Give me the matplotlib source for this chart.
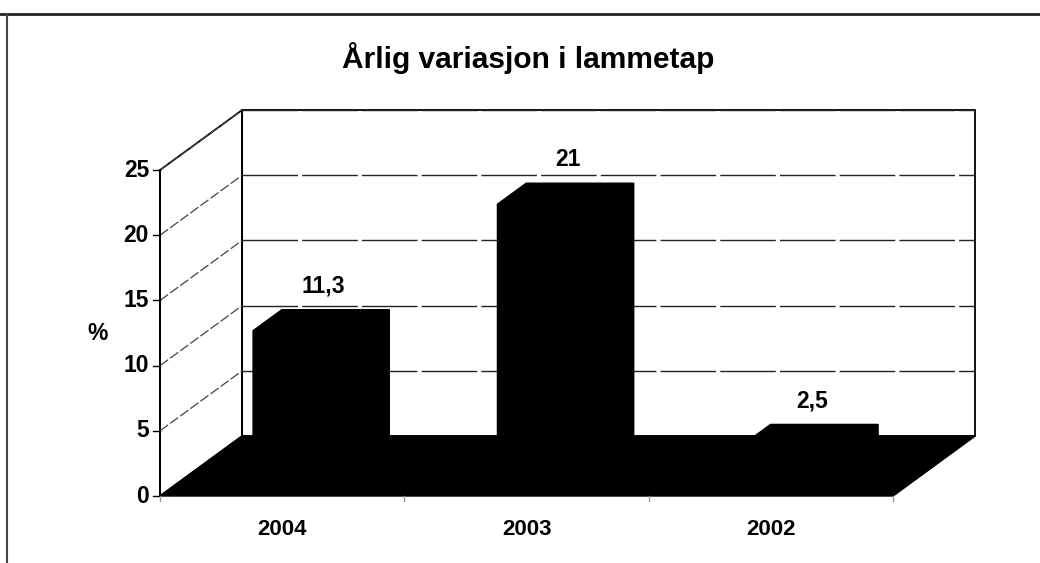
import matplotlib.pyplot as plt
import numpy as np
from matplotlib.patches import Polygon

plt.rcParams['font.family'] = ['Liberation Sans', 'DejaVu Sans']
plt.rcParams['font.weight'] = 'bold'

years = ["2004", "2003", "2002"]
tap = [11.3, 21, 2.5]
value_labels = ["11,3", "21", "2,5"]
yticks = [0, 5, 10, 15, 20, 25]

# oblique "3D": depth 0..1 shifts a point right/up in data units
DX, DY = 0.336, 4.6
def proj(x, y, d):
    return (x + DX * d, y + DY * d)

fig = plt.figure(figsize=(10.4, 5.63), dpi=100)
ax = fig.add_axes([0, 0, 1, 1])
ax.set_xlim(-0.6548, 3.601)
ax.set_ylim(-5.138, 38.04)
ax.axis('off')

n = len(years)
ymax = 25

# outer frame (scan border)
fig.add_artist(plt.Line2D([0, 1], [1 - 14/563, 1 - 14/563], color='#222', lw=2))
fig.add_artist(plt.Line2D([7/1040, 7/1040], [0, 1 - 14/563], color='#444', lw=1.5))

# back wall
bw = [proj(0, 0, 1), proj(n, 0, 1), proj(n, ymax, 1), proj(0, ymax, 1)]
ax.add_patch(Polygon(bw, closed=True, fill=False, edgecolor='black', lw=1.3, zorder=2))
# left wall
lw_ = [proj(0, 0, 0), proj(0, 0, 1), proj(0, ymax, 1), proj(0, ymax, 0)]
ax.add_patch(Polygon(lw_, closed=True, fill=False, edgecolor='black', lw=1.3, zorder=2))

# gridlines
for t in yticks[1:]:
    x0, y0 = proj(0, t, 1)
    x1, y1 = proj(n, t, 1)
    ax.plot([x0, x1], [y0, y1], color='#222', lw=1.0, ls=(0, (40, 3)), zorder=2)
    a0, b0 = proj(0, t, 0)
    ax.plot([a0, x0], [b0, y0], color='#444', lw=0.9, ls=(0, (8, 2)), zorder=2)

# floor
fl = [proj(0, 0, 0), proj(n, 0, 0), proj(n, 0, 1), proj(0, 0, 1)]
ax.add_patch(Polygon(fl, closed=True, facecolor='black', edgecolor='black', zorder=3))

# bars
w = 0.44
d0, d1 = 0.3, 0.65
for i, v in enumerate(tap):
    c = i + 0.5
    xl, xr = c - w / 2, c + w / 2
    pts = [proj(xl, 0, d0), proj(xl, v, d0), proj(xl, v, d1), proj(xr, v, d1),
           proj(xr, 0, d1), proj(xr, 0, d0)]
    ax.add_patch(Polygon(pts, closed=True, facecolor='black', edgecolor='black', zorder=4))
    tx, ty = proj(c, v, 0.5)
    ax.text(tx, ty + 1.6, value_labels[i], ha='center', va='bottom', fontsize=16.5, zorder=5)

# front y axis with ticks
ax.plot([0, 0], [0, ymax], color='black', lw=1.3, zorder=5)
for t in yticks:
    ax.plot([-0.03, 0], [t, t], color='black', lw=1, zorder=5)
    ax.text(-0.045, t, str(t), ha='right', va='center', fontsize=16.5)
ax.text(-0.215, 12.5, "%", ha='right', va='center', fontsize=16.5)

# x ticks on front floor edge
for k in range(n + 1):
    ax.plot([k, k], [0, -0.35], color='#999', lw=1, zorder=5)
for i, yr in enumerate(years):
    ax.text(i + 0.5, -2.6, yr, ha='center', va='center', fontsize=16)

ax.text(1.5 + DX / 2 - 0.16, 33.6, "Årlig variasjon i lammetap", ha='center',
        va='center', fontsize=21.5)

fig.savefig("out.png", dpi=100)
